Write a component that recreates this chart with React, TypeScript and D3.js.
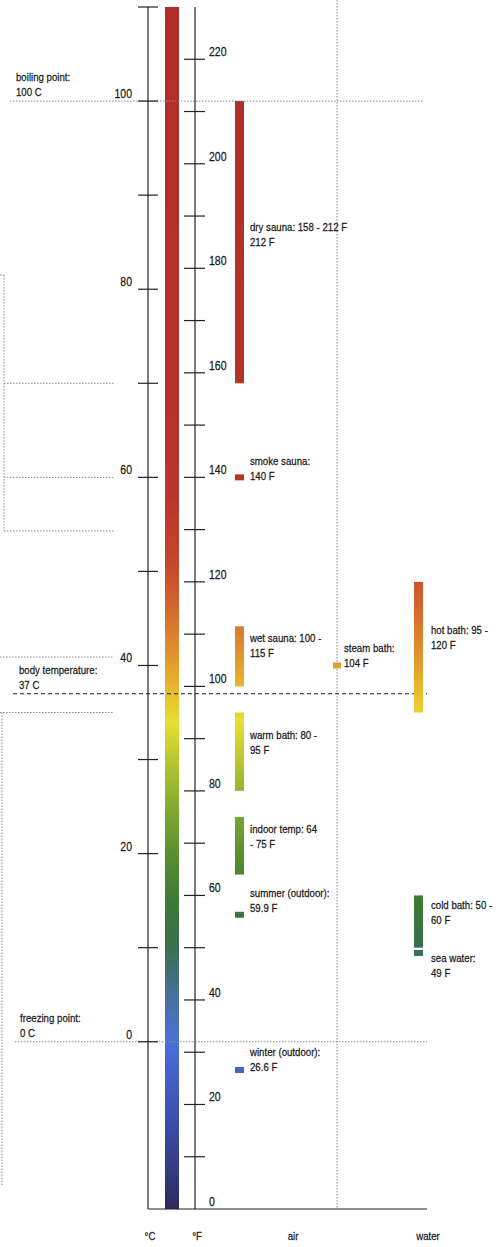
import React from "react";
import * as d3 from "d3";

const W = 499;
const H = 1247;

// ---- data ----
const celsiusTicks = [0, 10, 20, 30, 40, 50, 60, 70, 80, 90, 100, 110];
const celsiusLabels = [0, 20, 40, 60, 80, 100];
const fahrenheitTicks = [10, 20, 30, 40, 50, 60, 70, 80, 90, 100, 110, 120, 130, 140, 150, 160, 170, 180, 190, 200, 210, 220];
const fahrenheitLabels = [0, 20, 40, 60, 80, 100, 120, 140, 160, 180, 200, 220];

const airLow = [158, 140, 100, 80, 64, 56.3, 26.6];
const airHigh = [212, 140, 111.5, 95, 75, 56.3, 26.6];
const airText = [
  ["dry sauna: 158 - 212 F", "212 F"],
  ["smoke sauna:", "140 F"],
  ["wet sauna: 100 -", "115 F"],
  ["warm bath: 80 -", "95 F"],
  ["indoor temp: 64", "- 75 F"],
  ["summer (outdoor):", "59.9 F"],
  ["winter (outdoor):", "26.6 F"],
];

const steamValue = 104;
const steamText = ["steam bath:", "104 F"];

const waterLow = [95, 50, 49];
const waterHigh = [120, 60, 49];
const waterText = [
  ["hot bath: 95 -", "120 F"],
  ["cold bath: 50 -", "60 F"],
  ["sea water:", "49 F"],
];

const refTempsC = [100, 37, 0];
const refText = [
  ["boiling point:", "100 C"],
  ["body temperature:", "37 C"],
  ["freezing point:", "0 C"],
];

const bracketA = [81.5, 70, 60, 54.3];
const bracketB = [40.9, 35, -15.4];

const gradTempsC = [110, 58, 51, 46, 41, 37, 34, 30, 25, 20, 15, 10, 5, 1, 0, -8, -17.78];
const gradColors = ["#b02d2a", "#b8352b", "#c4462c", "#d4682e", "#e0952e", "#e8bf2c", "#e6e030", "#b8c832", "#84aa30", "#5a9031", "#3d7a35", "#3a6e50", "#47709a", "#4c70cc", "#4a6fd8", "#3c4fae", "#2d2a5e"];

// ---- layout ----
const FONT = "'Liberation Sans', Arial, sans-serif";
const SQUEEZE = 0.84;
const TOP = 7;
const BOTTOM = 1209;
const cAxisX = 148;
const fAxisX = 195;
const thermoX = 165;
const thermoW = 14;
const airX = 235;
const waterX = 414;
const steamX = 337;
const barW = 9;
const pointH = 6;
const lineGap = 15;
const airLabelOffset = [130, -12, 16, 26, 16, -18, -14];
const waterLabelOffset = [52, 14, 9];
const refLabelX = [16, 19, 20];
const refLineX = [[10, 423], [13, 427], [15, 427]];

const textColor = "#1a1a1a";

function T({ x, y, size = 11.5, anchor = "start", children }: { x: number; y: number; size?: number; anchor?: string; children: React.ReactNode }) {
  return (
    <text transform={`translate(${x},${y}) scale(${SQUEEZE},1)`} textAnchor={anchor as any} fontFamily={FONT} fontSize={size}
      fill={textColor} stroke={textColor} strokeWidth={0.25}>
      {children}
    </text>
  );
}

export default function App() {
  const yF = d3.scaleLinear().domain([0, 230]).range([BOTTOM, TOP]);
  const yC = d3.scaleLinear().domain([(0 - 32) * 5 / 9, 110]).range([BOTTOM, TOP]);

  const renderLabel = (lines: string[], x: number, y: number, key: string) => (
    <g key={key}>
      {lines.map((l, i) => (
        <T key={i} x={x} y={y + i * lineGap}>{l}</T>
      ))}
    </g>
  );

  const barRect = (lo: number, hi: number, x: number, key: string) => {
    if (lo === hi) {
      const yc = yF(lo);
      return <rect key={key} x={x} y={yc - pointH / 2} width={barW} height={pointH} fill="url(#tempGrad)" />;
    }
    return <rect key={key} x={x} y={yF(hi)} width={barW} height={yF(lo) - yF(hi)} fill="url(#tempGrad)" />;
  };

  const dotted = { stroke: "#8a8a8a", strokeWidth: 1, strokeDasharray: "1.5 1.5", fill: "none" };

  return (
    <svg width={W} height={H} style={{ display: "block", position: "absolute", left: 0, top: 0, background: "#fff" }}>
      <defs>
        <linearGradient id="tempGrad" gradientUnits="userSpaceOnUse" x1={0} x2={0} y1={yC(110)} y2={yC(-17.78)}>
          {gradTempsC.map((t, i) => (
            <stop key={i} offset={(yC(t) - yC(110)) / (yC(-17.78) - yC(110))} stopColor={gradColors[i]} />
          ))}
        </linearGradient>
      </defs>

      {/* left dotted brackets */}
      <line x1={0} x2={4} y1={yC(bracketA[0])} y2={yC(bracketA[0])} {...dotted} />
      <line x1={4} x2={4} y1={yC(bracketA[0])} y2={yC(bracketA[3])} {...dotted} />
      {bracketA.slice(1).map((c, i) => (
        <line key={"ba" + i} x1={4} x2={114} y1={yC(c)} y2={yC(c)} {...dotted} />
      ))}
      {bracketB.slice(0, 2).map((c, i) => (
        <line key={"bb" + i} x1={0} x2={113} y1={yC(c)} y2={yC(c)} {...dotted} />
      ))}
      <line x1={2} x2={2} y1={yC(bracketB[1])} y2={yC(bracketB[2])} {...dotted} />

      {/* air / water separator */}
      <line x1={steamX} x2={steamX} y1={0} y2={BOTTOM} {...dotted} />

      {/* thermometer gradient bar */}
      <rect x={thermoX} y={yC(110)} width={thermoW} height={BOTTOM - yC(110)} fill="url(#tempGrad)" />

      {/* reference lines */}
      {refTempsC.map((c, i) => (
        <line key={"ref" + i} x1={refLineX[i][0]} x2={refLineX[i][1]} y1={yC(c)} y2={yC(c)}
          {...(c === 37
            ? { stroke: "#222", strokeWidth: 1.1, strokeDasharray: "4 3", fill: "none" }
            : dotted)} />
      ))}
      {refTempsC.map((c, i) => renderLabel(refText[i], refLabelX[i], yC(c) - 20, "reft" + i))}

      {/* Celsius axis */}
      <line x1={cAxisX} x2={cAxisX} y1={yC(110)} y2={BOTTOM} stroke="#222" strokeWidth={1.2} />
      {celsiusTicks.map((t) => (
        <line key={"ct" + t} x1={cAxisX - 10} x2={cAxisX + 10} y1={yC(t)} y2={yC(t)} stroke="#222" strokeWidth={1.2} />
      ))}
      {celsiusLabels.map((t) => (
        <T key={"cl" + t} x={cAxisX - 16} y={yC(t) - 3} size={12.5} anchor="end">{t}</T>
      ))}

      {/* Fahrenheit axis */}
      <line x1={fAxisX} x2={fAxisX} y1={yF(230)} y2={BOTTOM} stroke="#222" strokeWidth={1.2} />
      {fahrenheitTicks.map((t) => (
        <line key={"ft" + t} x1={fAxisX - 11} x2={fAxisX + 10} y1={yF(t)} y2={yF(t)} stroke="#222" strokeWidth={1.2} />
      ))}
      {fahrenheitLabels.map((t) => (
        <T key={"fl" + t} x={fAxisX + 14} y={yF(t) - 3} size={12.5}>{t}</T>
      ))}

      {/* baseline */}
      <line x1={cAxisX} x2={427} y1={BOTTOM} y2={BOTTOM} stroke="#222" strokeWidth={1.2} />

      {/* air column */}
      {airLow.map((lo, i) => barRect(lo, airHigh[i], airX, "air" + i))}
      {airLow.map((lo, i) => {
        const anchor = lo === airHigh[i] ? yF(lo) : yF(airHigh[i]);
        return renderLabel(airText[i], airX + 15, anchor + airLabelOffset[i], "airt" + i);
      })}

      {/* steam bath */}
      <rect x={steamX - 4} y={yF(steamValue) - 3} width={8} height={6} fill="url(#tempGrad)" />
      {renderLabel(steamText, steamX + 7, yF(steamValue) - 13, "steam")}

      {/* water column */}
      {waterLow.map((lo, i) => barRect(lo, waterHigh[i], waterX, "water" + i))}
      {waterLow.map((lo, i) => {
        const anchor = lo === waterHigh[i] ? yF(lo) : yF(waterHigh[i]);
        return renderLabel(waterText[i], waterX + 17, anchor + waterLabelOffset[i], "watert" + i);
      })}

      {/* bottom labels */}
      <T x={cAxisX + 2} y={1240} anchor="middle">°C</T>
      <T x={fAxisX + 2} y={1240} anchor="middle">°F</T>
      <T x={293} y={1240} anchor="middle">air</T>
      <T x={428} y={1240} anchor="middle">water</T>
    </svg>
  );
}
